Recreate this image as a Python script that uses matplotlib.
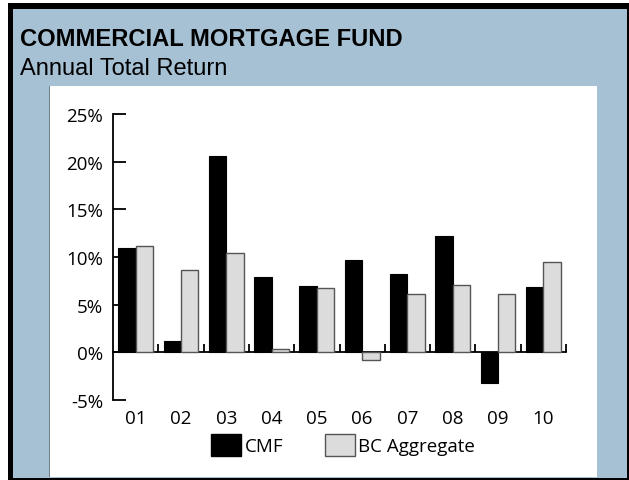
import matplotlib
matplotlib.use("Agg")
import matplotlib.pyplot as plt
import numpy as np
from matplotlib.patches import Rectangle, Patch
from matplotlib.ticker import FixedLocator, FuncFormatter

# ---------------------------------------------------------------------------
# Data
# ---------------------------------------------------------------------------
years = ["01", "02", "03", "04", "05", "06", "07", "08", "09", "10"]
cmf_returns = [10.9, 1.2, 20.6, 7.9, 7.0, 9.7, 8.2, 12.2, -3.2, 6.9]
bc_aggregate = [11.2, 8.6, 10.4, 0.3, 6.8, -0.8, 6.1, 7.1, 6.1, 9.5]

TITLE = "COMMERCIAL MORTGAGE FUND"
SUBTITLE = "Annual Total Return"

# ---------------------------------------------------------------------------
# Styling
# ---------------------------------------------------------------------------
W, H = 629, 481
PANEL_BLUE = "#A7C1D4"
BC_GREY = "#DCDCDC"
TICK_FONT = "Open Sans"
TITLE_FONT = "Liberation Sans"
LABEL_SIZE = 13.5

fig = plt.figure(figsize=(W / 100, H / 100), dpi=100)


def px_rect(x0, y0, x1, y1, **kw):
    """Rectangle in figure pixel coordinates (origin top-left)."""
    return Rectangle((x0 / W, 1 - y1 / H), (x1 - x0) / W, (y1 - y0) / H,
                     transform=fig.transFigure, **kw)


# frame: black drop border, blue card, white chart area
fig.patches.append(px_rect(8, 4, 629, 481, facecolor="black", edgecolor="none", zorder=0))
fig.patches.append(px_rect(13, 10, 627, 479, facecolor=PANEL_BLUE, edgecolor="none", zorder=1))
fig.patches.append(px_rect(49, 87, 597, 478, facecolor="white", edgecolor="none", zorder=2))
fig.patches.append(px_rect(49, 87, 50, 478, facecolor="#6f7f8a", edgecolor="none", zorder=3))

fig.text(20 / W, 1 - 46 / H, TITLE, fontsize=17.1, fontweight="bold",
         family=TITLE_FONT, color="black", va="baseline", ha="left")
fig.text(20 / W, 1 - 75 / H, SUBTITLE, fontsize=17.0,
         family=TITLE_FONT, color="black", va="baseline", ha="left")

# ---------------------------------------------------------------------------
# Bars
# ---------------------------------------------------------------------------
ax = fig.add_axes([113 / W, 80 / H, 453 / W, 286 / H])
ax.set_zorder(5)
ax.set_facecolor("none")
x = np.arange(len(years))
bw = 0.385
ax.bar(x - bw / 2, cmf_returns, bw, color="black", edgecolor="black",
       linewidth=0.8, zorder=3)
ax.bar(x + bw / 2, bc_aggregate, bw, color=BC_GREY, edgecolor="#555555",
       linewidth=1.0, zorder=3)

ax.set_xlim(-0.5, len(years) - 0.5)
ax.set_ylim(-5, 25)

for side in ("top", "right"):
    ax.spines[side].set_visible(False)
ax.spines["bottom"].set_position(("data", 0))
ax.spines["left"].set_linewidth(1.3)
ax.spines["bottom"].set_linewidth(1.3)

ax.yaxis.set_major_locator(FixedLocator([-5, 0, 5, 10, 15, 20, 25]))
ax.yaxis.set_major_formatter(FuncFormatter(lambda v, _: f"{v:.0f}%"))
ax.tick_params(axis="y", direction="in", length=9, width=1.3, pad=7,
               labelsize=LABEL_SIZE, labelfontfamily=TICK_FONT)

# separators between year groups sit on the zero line
ax.set_xticks(x + 0.5)
ax.set_xticklabels([])
ax.tick_params(axis="x", direction="in", length=6, width=1.3)
for i, label in enumerate(years):
    ax.text(i, -6.85, label, ha="center", va="center", fontsize=LABEL_SIZE,
            family=TICK_FONT)

# ---------------------------------------------------------------------------
# Legend
# ---------------------------------------------------------------------------
handles = [Patch(facecolor="black", edgecolor="black", label="CMF"),
           Patch(facecolor=BC_GREY, edgecolor="#555555", label="BC Aggregate")]
fig.legend(handles=handles, loc="center", bbox_to_anchor=(343 / W, 1 - 446 / H),
           ncol=2, frameon=False, prop={"family": TICK_FONT, "size": LABEL_SIZE},
           handlelength=1.6, handleheight=1.45, handletextpad=0.2,
           columnspacing=2.2, borderpad=0)

fig.savefig("out.png", dpi=100)
